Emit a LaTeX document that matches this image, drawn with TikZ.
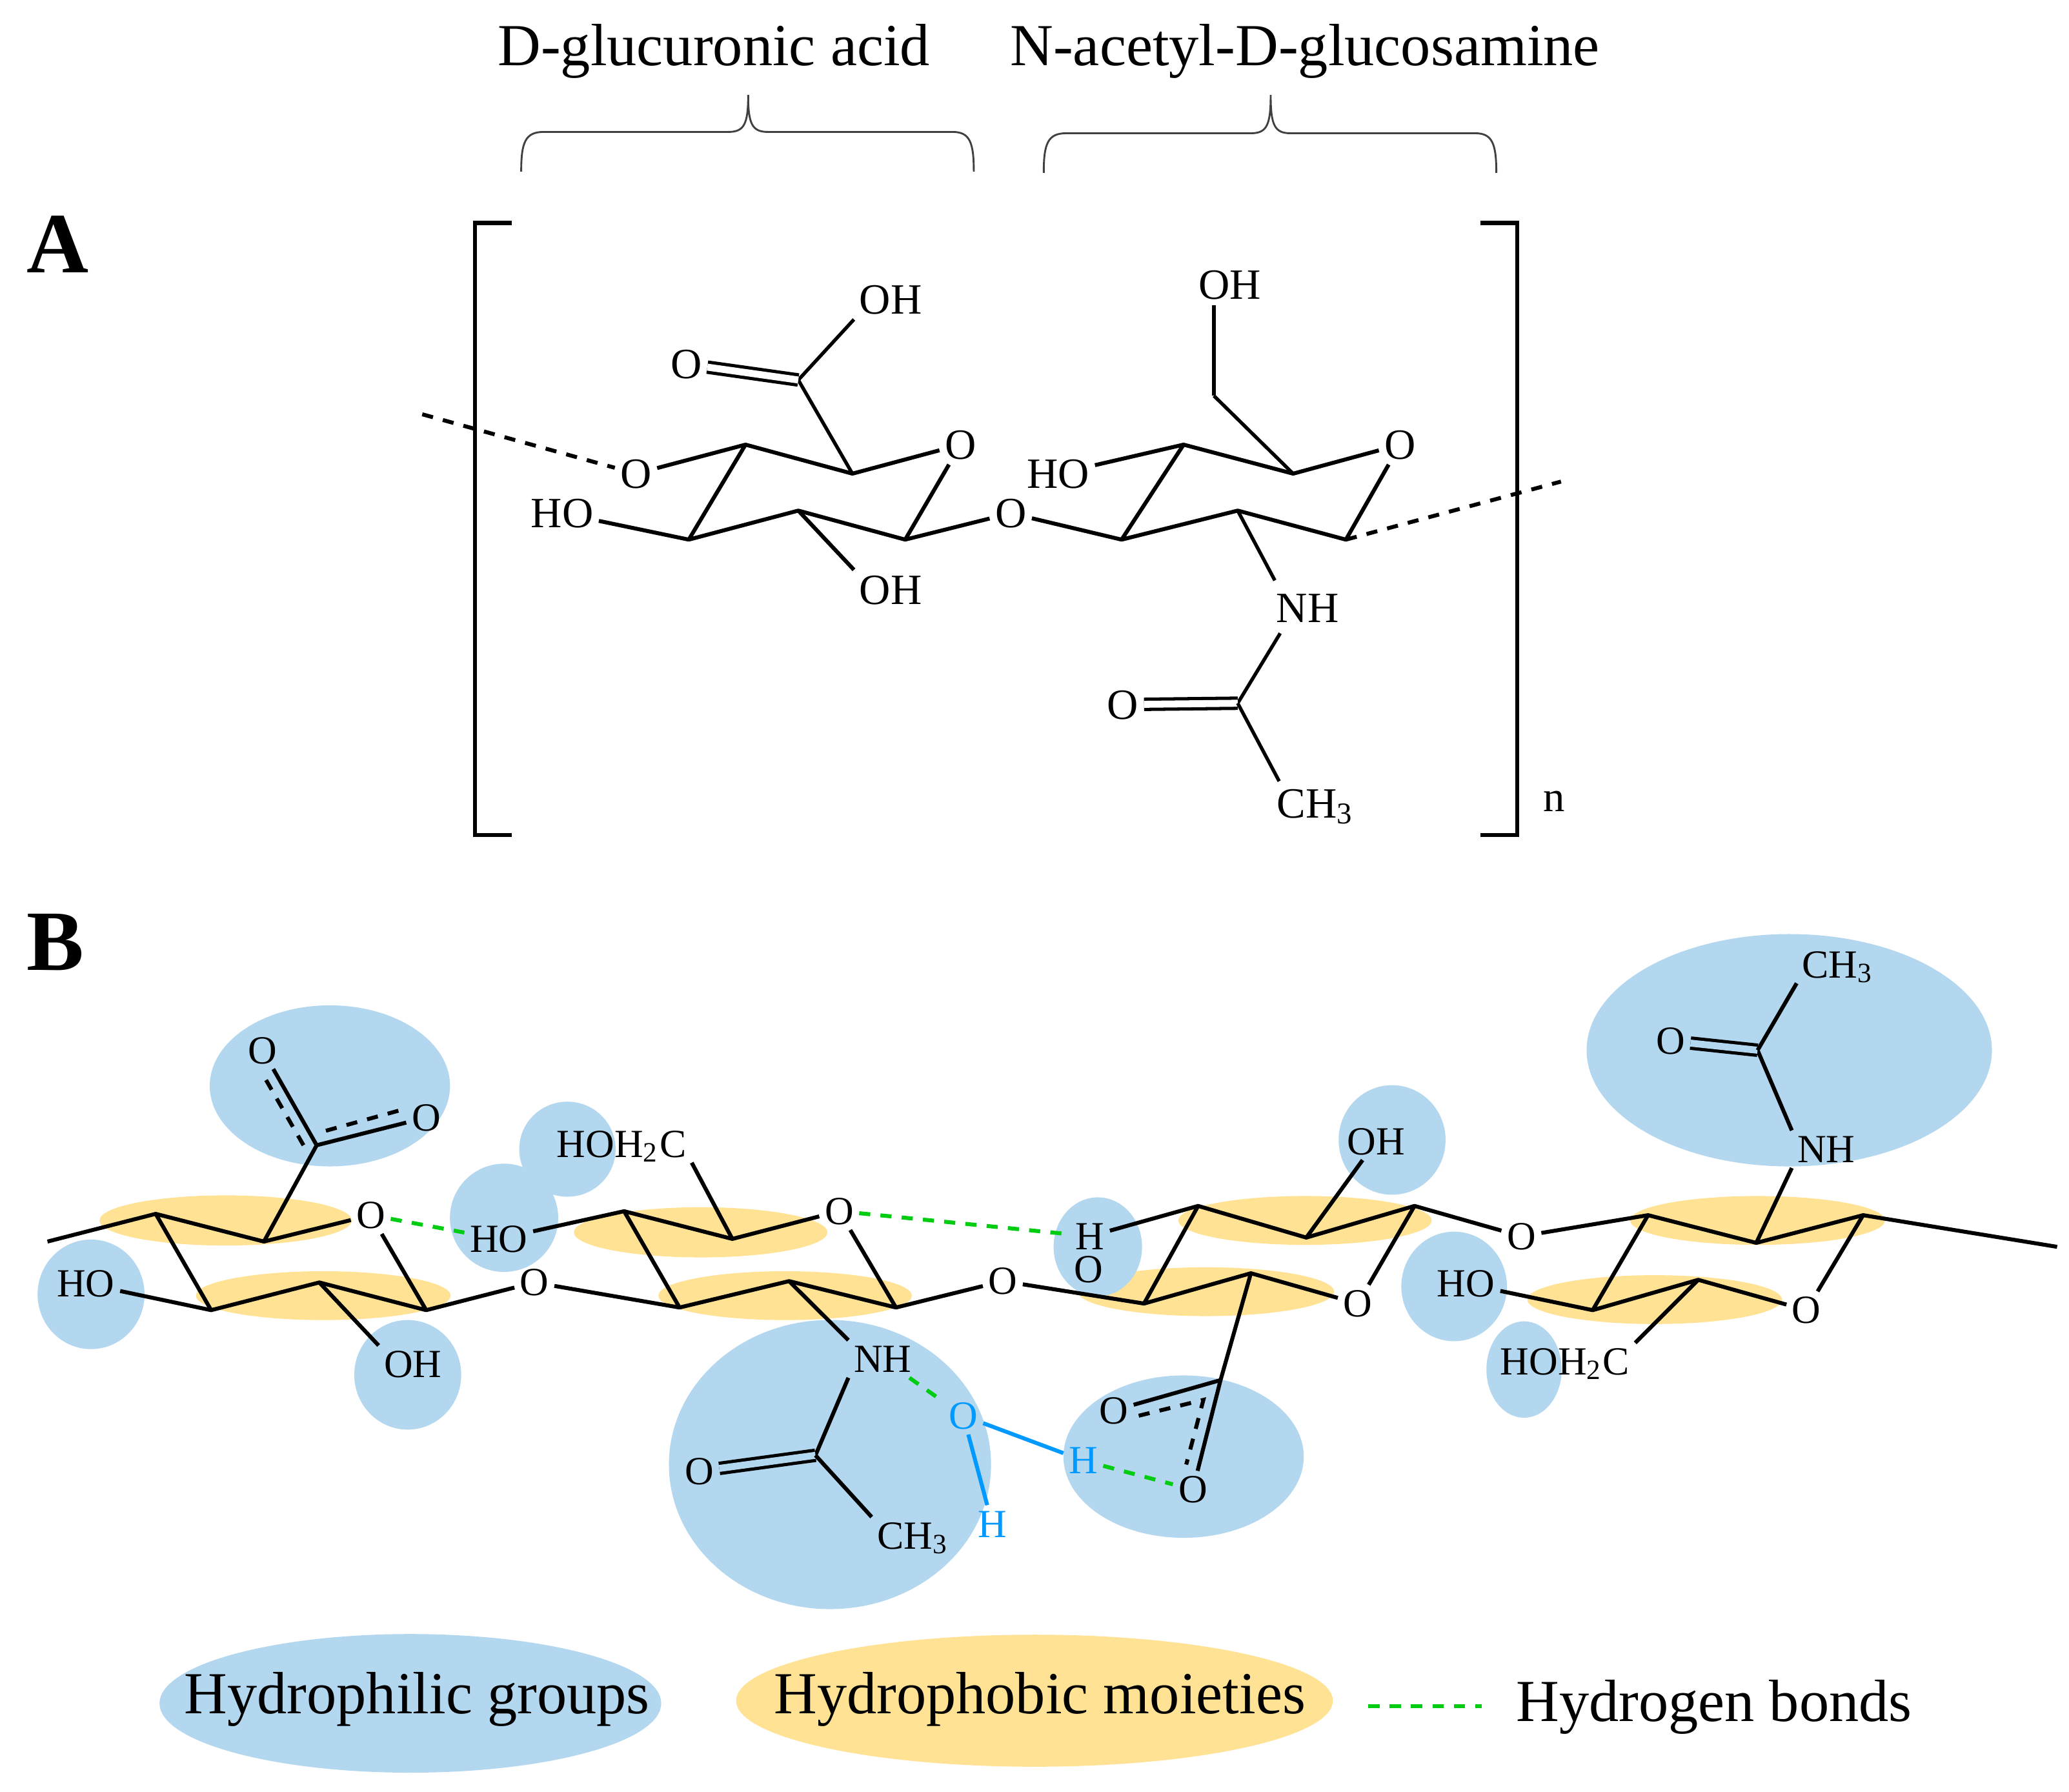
\documentclass[tikz,border=0pt]{standalone}
\usepackage{fontspec}
\setmainfont{Liberation Serif}
\usepackage{xcolor}
\usepackage{tikz}
\usetikzlibrary{calc,positioning,shapes.geometric}
\definecolor{philblue}{HTML}{B3D7EF}
\definecolor{phobyellow}{HTML}{FFE294}
\definecolor{hbgreen}{HTML}{00CC11}
\definecolor{waterblue}{HTML}{0099FF}
\tikzset{
    atom/.style={
        rectangle,
        inner sep=1pt,
        text height=6.2pt,
        text depth=0pt,
        font={\fontsize{9.3pt}{11}\selectfont}
    },
    atomb/.style={
        rectangle,
        inner sep=1pt,
        text height=5.7pt,
        text depth=0pt,
        font={\fontsize{8.6pt}{10}\selectfont}
    },
    wateratom/.style={atomb, text=waterblue},
    bond/.style={draw, line width=.85pt, line join=round},
    thinbond/.style={draw, line width=.75pt},
    dbl/.style={draw, line width=.7pt, double=white, double distance=1.5pt},
    dblphil/.style={dbl, double=philblue},
    dashbond/.style={draw, line width=.85pt, dash pattern=on 2.4pt off 2.2pt},
    hbond/.style={draw=hbgreen, line width=.85pt, dash pattern=on 2.4pt off 2.2pt},
    waterbond/.style={draw=waterblue, line width=.85pt},
    philic/.style 2 args={
        ellipse, fill=philblue, inner sep=0pt,
        minimum width=#1, minimum height=#2
    },
    phobic/.style 2 args={
        ellipse, fill=phobyellow, inner sep=0pt,
        minimum width=#1, minimum height=#2
    },
    bigtext/.style={inner sep=1pt, font={\fontsize{12.85pt}{15}\selectfont}},
    panel/.style={inner sep=0pt, font={\fontsize{18.5pt}{20}\selectfont\bfseries}},
    bracket/.style={draw=black!75, line width=.4pt},
    squarebr/.style={draw, line width=.85pt},
}
\begin{document}
\begin{tikzpicture}
    [
        x=0.01cm,
        y=-0.01cm,
    ]
    \useasboundingbox (0,0) rectangle (1568,1358);

    % panel A
    \node(titlea)[bigtext] at (541,39){D-glucuronic acid};
    \node(titleb)[bigtext] at (989,39){N-acetyl-D-glucosamine};
    \draw[bracket] (395,130) .. controls (395,108) and (398,100) .. (412,100) -- (552,100)
        .. controls (564,100) and (567,94) .. (567,72) .. controls (567,94) and (570,100) .. (582,100)
        -- (722,100) .. controls (735,100) and (738,108) .. (738,130);
    \draw[bracket] (791,131) .. controls (791,109) and (794,101) .. (808,101) -- (948,101)
        .. controls (960,101) and (963,95) .. (963,72) .. controls (963,95) and (966,101) .. (978,101)
        -- (1118,101) .. controls (1131,101) and (1134,109) .. (1134,131);
    \node(panela)[panel] at (44,185){A};
    \draw[squarebr] (388,169) -- (360,169) -- (360,633) -- (388,633);
    \draw[squarebr] (1122,169) -- (1150,169) -- (1150,633) -- (1122,633);
    \node(rep)[atom] at (1178,604){n};

    \coordinate(a1) at (565,337);
    \coordinate(a2) at (646,359);
    \coordinate(a3) at (686,409);
    \coordinate(a4) at (605,387);
    \coordinate(a5) at (522,409);
    \coordinate(acid) at (605,288);
    \coordinate(b1) at (897,337);
    \coordinate(b2) at (980,359);
    \coordinate(b3) at (1020,409);
    \coordinate(b4) at (938,387);
    \coordinate(b5) at (850,409);
    \coordinate(meth) at (920,300);
    \coordinate(amid) at (938,533);
    \coordinate(freea) at (320,314);
    \coordinate(freeb) at (1183,365);

    \node(olink)[atom] at (482,359){O};
    \node(oringa)[atom] at (728,337){O};
    \node(oglyc)[atom] at (766,389){O};
    \node(oringb)[atom] at (1061,337){O};
    \node(hoa)[atom] at (426,389){HO};
    \node(oha)[atom] at (675,447){OH};
    \node(ohacid)[atom] at (675,227){OH};
    \node(oacid)[atom] at (520,276){O};
    \node(hob)[atom] at (802,359){HO};
    \node(ohb)[atom] at (932,216){OH};
    \node(nha)[atom] at (991,461){NH};
    \node(oamid)[atom] at (851,534){O};
    \node(cha)[atom] at (997,609){CH\textsubscript{3}};

    \draw[dashbond] (freea) to (olink);
    \draw[bond] (olink) to (a1) to (a2) to (oringa) to (a3) to (a4) to (a5) to (a1);
    \draw[bond] (hoa) to (a5);
    \draw[bond] (a4) to (oha.north west);
    \draw[bond] (a3) to (oglyc);
    \draw[thinbond] (a2) to (acid);
    \draw[thinbond] (acid) to (ohacid.south west);
    \draw[dbl] (acid) to (oacid);
    \draw[bond] (oglyc) to (b5) to (b1) to (b2) to (oringb) to (b3) to (b4) to (b5);
    \draw[bond] (hob) to (b1);
    \draw[thinbond] (b2) to (meth);
    \draw[thinbond] (meth) to (ohb.south -| meth);
    \draw[thinbond] (b4) to ([xshift=.85pt,yshift=1.7pt]nha.north west);
    \draw[thinbond] ([xshift=2pt,yshift=-1.1pt]nha.south west) to (amid);
    \draw[dbl] (amid) to (oamid);
    \draw[thinbond] (amid) to ([xshift=1.7pt,yshift=.5pt]cha.north west);
    \draw[dashbond] (b3) to (freeb);

    % panel B
    \node(panelb)[panel] at (42,714){B};

    \node(ya)[phobic={1.91cm}{.38cm}] at (171,925){};
    \node(yb)[phobic={1.93cm}{.37cm}] at (245,982){};
    \node(yc)[phobic={1.92cm}{.38cm}] at (531,934){};
    \node(yd)[phobic={1.92cm}{.37cm}] at (595,982){};
    \node(ye)[phobic={1.92cm}{.37cm}] at (989,925){};
    \node(yf)[phobic={1.94cm}{.37cm}] at (914,979){};
    \node(yg)[phobic={1.93cm}{.37cm}] at (1332,925){};
    \node(yh)[phobic={1.93cm}{.37cm}] at (1254,985){};

    \node(ga)[philic={1.82cm}{1.22cm}] at (250,823){};
    \node(gb)[philic={.81cm}{.83cm}] at (69,981){};
    \node(gc)[philic={.81cm}{.83cm}] at (309,1042){};
    \node(gd)[philic={.82cm}{.82cm}] at (382,923){};
    \node(ge)[philic={.73cm}{.72cm}] at (430,871){};
    \node(gf)[philic={2.44cm}{2.19cm}] at (629,1110){};
    \node(gg)[philic={1.82cm}{1.23cm}] at (897,1104){};
    \node(gh)[philic={.81cm}{.83cm}] at (1055,864){};
    \node(gi)[philic={.67cm}{.75cm}] at (832,945){};
    \node(gj)[philic={.80cm}{.83cm}] at (1102,975){};
    \node(gk)[philic={.57cm}{.73cm}] at (1155,1038){};
    \node(gl)[philic={3.07cm}{1.76cm}] at (1356,796){};

    \coordinate(startb) at (36,941);
    \coordinate(v1) at (118,920);
    \coordinate(v2) at (200,941);
    \coordinate(v3) at (323,993);
    \coordinate(v4) at (242,972);
    \coordinate(v5) at (160,993);
    \coordinate(ca) at (240,868);
    \coordinate(w1) at (473,918);
    \coordinate(w2) at (555,939);
    \coordinate(w3) at (679,991);
    \coordinate(w4) at (598,971);
    \coordinate(w5) at (515,991);
    \coordinate(cb) at (618,1103);
    \coordinate(r1) at (908,914);
    \coordinate(r2) at (990,938);
    \coordinate(r3) at (1072,914);
    \coordinate(r4) at (948,965);
    \coordinate(r5) at (867,988);
    \coordinate(cc) at (925,1046);
    \coordinate(s1) at (1249,921);
    \coordinate(s2) at (1331,942);
    \coordinate(s3) at (1412,921);
    \coordinate(s4) at (1287,970);
    \coordinate(s5) at (1207,993);
    \coordinate(cd) at (1332,796);
    \coordinate(endb) at (1559,945);
    \coordinate(daa) at (230,868);
    \coordinate(dab) at (199,814);
    \coordinate(dac) at (247,857);
    \coordinate(dad) at (305,841);
    \coordinate(dca) at (912,1061);
    \coordinate(dcb) at (863,1073);
    \coordinate(dcc) at (899,1110);

    \node(oaa)[atomb] at (199,796){O};
    \node(oab)[atomb] at (323,847){O};
    \node(oac)[atomb] at (281,921){O};
    \node(oad)[atomb] at (405,972){O};
    \node(hoc)[atomb] at (65,973){HO};
    \node(ohc)[atomb] at (313,1034){OH};
    \node(hod)[atomb] at (378,939){HO};
    \node(hoha)[atomb] at (471,867){HOH\textsubscript{2}C};
    \node(oae)[atomb] at (636,918){O};
    \node(oaf)[atomb] at (760,971){O};
    \node(nhb)[atomb] at (669,1030){NH};
    \node(oag)[atomb] at (530,1115){O};
    \node(chb)[atomb] at (692,1164){CH\textsubscript{3}};
    \node(hba)[atomb] at (826,937){H};
    \node(oah)[atomb] at (825,962){O};
    \node(ohd)[atomb] at (1043,865){OH};
    \node(oai)[atomb] at (1029,988){O};
    \node(oaj)[atomb] at (844,1069){O};
    \node(oak)[atomb] at (904,1129){O};
    \node(oal)[atomb] at (1153,937){O};
    \node(hoe)[atomb] at (1111,973){HO};
    \node(hohb)[atomb] at (1186,1032){HOH\textsubscript{2}C};
    \node(oam)[atomb] at (1369,993){O};
    \node(nhc)[atomb] at (1384,871){NH};
    \node(oan)[atomb] at (1266,789){O};
    \node(chc)[atomb] at (1393,731){CH\textsubscript{3}};
    \node(owat)[wateratom] at (730,1073){O};
    \node(hwa)[wateratom] at (821,1107){H};
    \node(hwb)[wateratom] at (752,1155){H};

    \draw[bond] (startb) to (v1) to (v2) to (oac) to (v3) to (v4) to (v5) to (v1);
    \draw[bond] (hoc) to (v5);
    \draw[bond] (v4) to (ohc.north west);
    \draw[bond] (v2) to (ca);
    \draw[bond] (ca) to (oaa);
    \draw[bond] (ca) to (oab);
    \draw[dashbond] (daa) to (dab);
    \draw[dashbond] (dac) to (dad);
    \draw[bond] (v3) to (oad);
    \draw[bond] (oad) to (w5) to (w1) to (w2) to (oae) to (w3) to (w4) to (w5);
    \draw[bond] (hod) to (w1);
    \draw[bond] (w2) to (hoha.south east);
    \draw[bond] (w3) to (oaf);
    \draw[bond] (w4) to (nhb.north west);
    \draw[bond] (nhb.south west) to (cb);
    \draw[dblphil] (cb) to (oag);
    \draw[bond] (cb) to (chb.north west);
    \draw[bond] (oaf) to (r5) to (r1) to (r2) to (r3) to (oal);
    \draw[bond] (r5) to (r4) to (oai) to (r3);
    \draw[bond] (hba) to (r1);
    \draw[bond] (r2) to (ohd);
    \draw[bond] (r4) to (cc);
    \draw[bond] (cc) to (oaj);
    \draw[bond] (cc) to (oak);
    \draw[dashbond] (dcb) to (dca) to (dcc);
    \draw[bond] (oal) to (s1) to (s2) to (s3) to (endb);
    \draw[bond] (s3) to (oam) to (s4) to (s5) to (s1);
    \draw[bond] (hoe) to (s5);
    \draw[bond] (s4) to (hohb.north east);
    \draw[bond] (s2) to (nhc.south west);
    \draw[bond] (nhc.north west) to (cd);
    \draw[dblphil] (cd) to (oan);
    \draw[bond] (cd) to (chc.south west);
    \draw[hbond] (oac) to (hod);
    \draw[hbond] (oae) to (hba);
    \draw[hbond] (nhb) to (owat);
    \draw[hbond] (hwa) to (oak);
    \draw[waterbond] (owat) to (hwa);
    \draw[waterbond] (owat) to (hwb);

    % legend
    \node(legphil)[philic={3.80cm}{1.05cm}] at (311,1291){};
    \node(legphob)[phobic={4.52cm}{1.00cm}] at (784,1289){};
    \node(textphil)[bigtext] at (316,1288){Hydrophilic groups};
    \node(textphob)[bigtext] at (788,1288){Hydrophobic moieties};
    \node(texthb)[bigtext] at (1299,1294){Hydrogen bonds};
    \coordinate(hbla) at (1037,1293);
    \coordinate(hblb) at (1123,1293);
    \draw[hbond] (hbla) to (hblb);
\end{tikzpicture}
\end{document}
